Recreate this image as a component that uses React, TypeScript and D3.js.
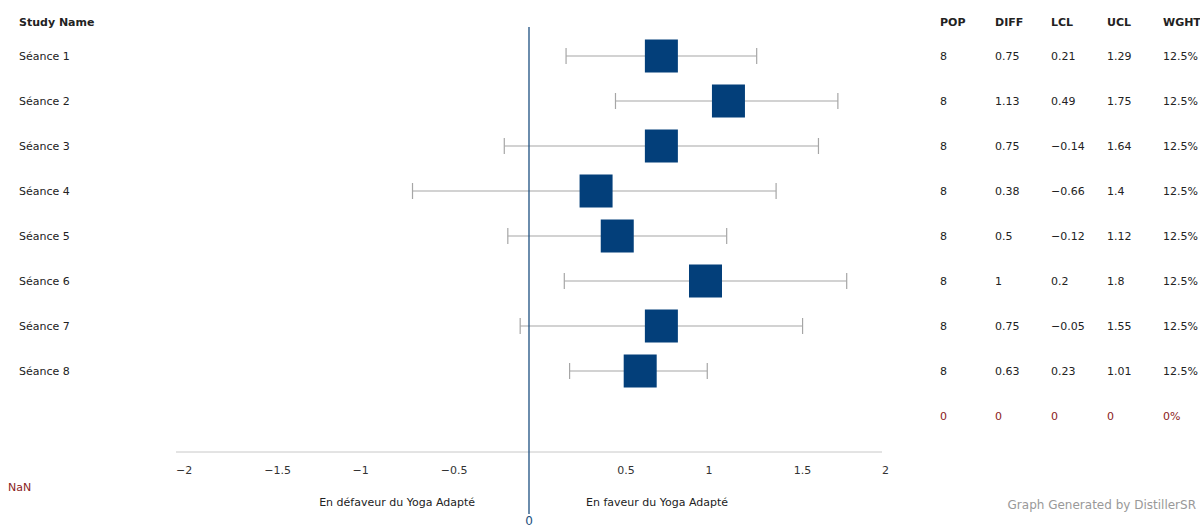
import React from "react";
import * as d3 from "d3";

// Study rows
const studies = ["Séance 1", "Séance 2", "Séance 3", "Séance 4", "Séance 5", "Séance 6", "Séance 7", "Séance 8"];
const pop = [8, 8, 8, 8, 8, 8, 8, 8];
const diff = [0.75, 1.13, 0.75, 0.38, 0.5, 1, 0.75, 0.63];
const lcl = [0.21, 0.49, -0.14, -0.66, -0.12, 0.2, -0.05, 0.23];
const ucl = [1.29, 1.75, 1.64, 1.4, 1.12, 1.8, 1.55, 1.01];
const wght = ["12.5%", "12.5%", "12.5%", "12.5%", "12.5%", "12.5%", "12.5%", "12.5%"];

// Summary row
const totals = ["0", "0", "0", "0", "0%"];

const columnHeaders = ["POP", "DIFF", "LCL", "UCL", "WGHT"];
const xTicks = [-2, -1.5, -1, -0.5, 0.5, 1, 1.5, 2];

const W = 1200;
const H = 529;
const FONT = "'DejaVu Sans', 'Open Sans', sans-serif";

export default function App() {
  const x = d3.scaleLinear().domain([-2, 2]).range([176, 882]);
  const y = d3
    .scalePoint<number>()
    .domain(d3.range(studies.length + 1))
    .range([56, 416]);

  const colX = [940, 995, 1051, 1107, 1163];
  const boxSize = 33;
  const capH = 16;
  const fmt = (v: number) => String(v).replace("-", "\u2212");

  const rowCells = (i: number) => [String(pop[i]), fmt(diff[i]), fmt(lcl[i]), fmt(ucl[i]), wght[i]];

  return (
    <svg
      width={W}
      height={H}
      style={{ position: "absolute", left: 0, top: 0, background: "#fff" }}
      fontFamily={FONT}
    >
      {/* headers */}
      <text x={19} y={26} fontSize={11} fontWeight="bold" fill="#222">
        Study Name
      </text>
      {columnHeaders.map((h, j) => (
        <text key={h} x={colX[j]} y={26} fontSize={11} fontWeight="bold" fill="#222">
          {h}
        </text>
      ))}

      {/* x axis line */}
      <line x1={x(-2)} x2={x(2)} y1={452} y2={452} stroke="#c8c8c8" strokeWidth={1} />
      {xTicks.map((t) => (
        <text key={t} x={x(t)} y={474} fontSize={11} fill="#333">
          {fmt(t)}
        </text>
      ))}

      {/* rows */}
      {studies.map((s, i) => {
        const cy = y(i)!;
        return (
          <g key={s}>
            <text x={19} y={cy + 4} fontSize={11} fill="#222">
              {s}
            </text>
            <line x1={x(lcl[i])} x2={x(ucl[i])} y1={cy} y2={cy} stroke="#a6a6a6" strokeWidth={1.2} />
            <line x1={x(lcl[i])} x2={x(lcl[i])} y1={cy - capH / 2} y2={cy + capH / 2} stroke="#a6a6a6" strokeWidth={1.2} />
            <line x1={x(ucl[i])} x2={x(ucl[i])} y1={cy - capH / 2} y2={cy + capH / 2} stroke="#a6a6a6" strokeWidth={1.2} />
            <rect
              x={x(diff[i]) - boxSize / 2}
              y={cy - boxSize / 2}
              width={boxSize}
              height={boxSize}
              fill="#033f7a"
            />
            {rowCells(i).map((c, j) => (
              <text key={j} x={colX[j]} y={cy + 4} fontSize={11} fill="#222">
                {c}
              </text>
            ))}
          </g>
        );
      })}

      {/* summary row */}
      {totals.map((c, j) => (
        <text key={j} x={colX[j]} y={y(studies.length)! + 4} fontSize={11} fill="#8b1c1c">
          {c}
        </text>
      ))}

      {/* zero line */}
      <line x1={x(0)} x2={x(0)} y1={27} y2={514} stroke="#1d4f80" strokeWidth={1.3} />
      <text x={x(0)} y={525} fontSize={12} textAnchor="middle" fill="#1d4f80">
        0
      </text>

      {/* direction labels */}
      <text x={475} y={506} fontSize={11} textAnchor="end" fill="#222">
        En défaveur du Yoga Adapté
      </text>
      <text x={586} y={506} fontSize={11} fill="#222">
        En faveur du Yoga Adapté
      </text>

      <text x={8} y={491} fontSize={11} fill="#8b1c1c">
        NaN
      </text>
      <text x={1196} y={509} fontSize={12} textAnchor="end" fill="#999">
        Graph Generated by DistillerSR
      </text>
    </svg>
  );
}
